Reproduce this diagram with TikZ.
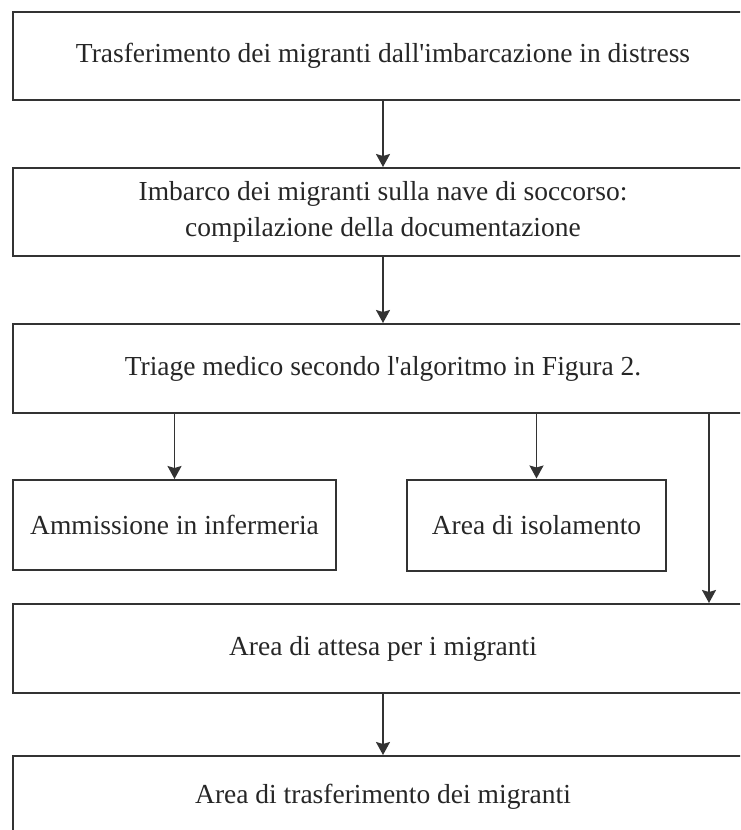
\documentclass[tikz,border=0pt]{standalone}
\usepackage{fontspec}
\setmainfont{Liberation Serif}
\usepackage{tikz}
\usetikzlibrary{positioning,arrows.meta}

\begin{document}
\begin{tikzpicture}[
stepbox/.style={rectangle, draw=black!80, line width=2pt, align=center, text=black!85,
    font=\fontsize{27.5}{36}\selectfont, inner sep=0pt},
widebox/.style={stepbox, minimum width=740pt, minimum height=88pt},
flow/.style={-{Stealth[length=13pt,width=14pt,inset=2pt]}, draw=black!80, line width=1.7pt}
]
    \clip (0,0) rectangle (740pt,-830pt);
    %Nodes
    \node[widebox, anchor=north west]
        (transfer)  at (12pt,-11pt)     {Trasferimento dei migranti dall\textquotesingle imbarcazione in distress};
    \node[widebox]
        (boarding)  [below=66pt of transfer]  {Imbarco dei migranti sulla nave di soccorso:\\compilazione della documentazione};
    \node[widebox, minimum height=89pt]
        (triage)    [below=66pt of boarding]  {Triage medico secondo l\textquotesingle algoritmo in Figura 2.};
    \node[stepbox, minimum width=323pt, minimum height=90pt]
        (infirmary) [below=65pt of triage.south west, anchor=north west] {Ammissione in infermeria};
    \node[stepbox, minimum width=259pt, minimum height=91pt]
        (isolation) [right=69pt of infirmary] {Area di isolamento};
    \node[widebox, minimum height=89pt]
        (waiting)   [below=189pt of triage]   {Area di attesa per i migranti};
    \node[widebox, minimum height=82pt]
        (handover)  [below=61pt of waiting]   {Area di trasferimento dei migranti};
    \coordinate[right=42pt of isolation.east] (bypass);

    %Lines
    \draw[flow] (transfer.south) -- (boarding.north);
    \draw[flow] (boarding.south) -- (triage.north);
    \draw[flow] (triage.south -| infirmary.north) -- (infirmary.north);
    \draw[flow] (triage.south -| isolation.north) -- (isolation.north);
    \draw[flow] (triage.south -| bypass) -- (waiting.north -| bypass);
    \draw[flow] (waiting.south) -- (handover.north);
\end{tikzpicture}
\end{document}
